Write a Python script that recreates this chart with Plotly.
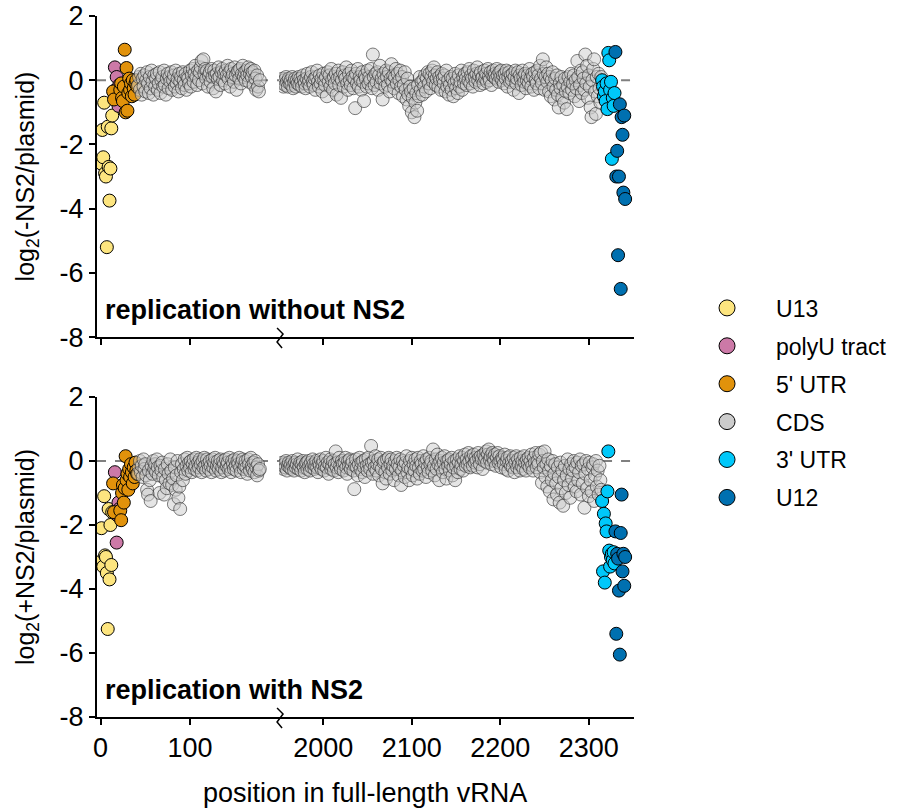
import plotly.graph_objects as go

# ---------------- data ----------------
cat_names = ["U13", "polyU tract", "5' UTR", "CDS", "3' UTR", "U12"]
cat_colors = ["#FDE57F", "#CC79A7", "#E1920B", "#CCCCCC", "#00C8FA", "#0070B0"]

u13_pos = list(range(1, 14))
polyu_pos = list(range(16, 22))
utr5_pos = [14, 15] + list(range(22, 42))
cds_left_start = 42
cds_right_start = 1953
utr3_pos = list(range(2315, 2330))
u12_pos = list(range(2330, 2342))

# replication without NS2 (log2(-NS2/plasmid))
minus_u13 = [-2.6, -1.55, -2.4, -0.7, -2.9, -3.0, -5.2, -1.45, -2.7, -3.75, -2.75, -1.5, -1.1]
minus_polyu = [0.4, -0.3, 0.1, -0.45, -0.8, -0.15]
minus_utr5 = [-0.35, -0.6,
              -0.3, -0.1, -0.55, -0.65, -0.2, 0.95, -1.0, 0.38, -0.95, -0.4,
              0.05, -0.3, -0.1, -0.5, 0.0, -0.25, -0.45, -0.1, 0.0, -0.2]
minus_cds_left = [
    -0.15, 0.1, -0.3, 0.2, -0.45, 0.05, -0.2, 0.15, -0.35, 0.0,
    0.25, -0.1, -0.4, 0.1, -0.25, 0.3, -0.05, -0.45, 0.15, -0.2,
    0.05, 0.2, -0.3, -0.1, 0.25, -0.4, 0.0, 0.1, -0.2, 0.3,
    -0.15, -0.45, 0.05, 0.2, -0.25, 0.1, -0.05, 0.25, -0.3, 0.0,
    0.15, -0.2, 0.3, -0.1, 0.05, -0.35, 0.2, -0.05, 0.1, -0.25,
    0.25, 0.0, -0.15, 0.2, -0.3, 0.1, 0.05, -0.1, 0.3, -0.2,
    0.15, 0.35, -0.05, 0.2, 0.45, 0.1, -0.15, 0.3, 0.0, 0.25,
    0.4, 0.6, -0.1, 0.65, 0.2, 0.35, 0.05, 0.3, -0.2, 0.15,
    0.25, -0.05, 0.35, 0.1, -0.25, 0.3, 0.15, -0.35, 0.2, 0.05,
    0.4, 0.1, -0.15, 0.25, 0.35, 0.0, 0.2, -0.1, 0.3, 0.15,
    0.45, 0.05, 0.25, -0.2, 0.35, 0.1, 0.2, -0.05, 0.4, 0.15,
    -0.3, 0.25, 0.3, 0.05, 0.35, -0.1, 0.2, 0.45, 0.1, 0.25,
    0.0, 0.3, 0.15, 0.4, -0.05, 0.2, 0.35, 0.1, 0.25, -0.15,
    0.3, 0.05, -0.3, 0.15, -0.2, -0.35, 0.0]
minus_cds_right = [
    -0.1, 0.05, -0.2, 0.0, -0.15, 0.1, -0.05, -0.2, 0.05, -0.1,
    0.0, -0.15, 0.1, -0.25, -0.05, 0.05, -0.2, 0.0, -0.1, 0.1,
    -0.15, 0.05, -0.05, -0.2, 0.15, 0.0, -0.1, -0.25, 0.05, 0.2,
    -0.1, 0.0, -0.2, 0.1, 0.25, -0.05, -0.15, 0.05, -0.3, 0.1,
    0.3, -0.05, -0.2, 0.15, -0.1, 0.05, -0.35, 0.2, 0.0, -0.15,
    0.1, -0.5, 0.25, -0.05, 0.15, -0.2, 0.35, 0.0, -0.3, 0.1,
    -0.1, 0.2, -0.45, 0.05, 0.3, -0.15, 0.1, -0.55, 0.0, 0.25,
    -0.2, 0.15, 0.05, 0.4, -0.1, -0.3, 0.2, 0.0, -0.15, 0.3,
    0.1, -0.25, 0.05, -0.87, 0.2, -0.1, 0.35, -0.2, 0.1, 0.0,
    -0.3, 0.25, -0.05, -0.65, 0.15, 0.05, -0.2, 0.3, -0.1, 0.1,
    0.0, 0.35, -0.25, 0.8, 0.1, -0.15, 0.2, -0.05, 0.25, -0.3,
    0.15, 0.45, -0.1, 0.05, -0.6, 0.2, 0.0, -0.2, 0.3, 0.1,
    -0.15, 0.25, -0.35, 0.05, 0.5, -0.05, 0.15, -0.25, 0.1, 0.35,
    -0.1, 0.2, -0.4, 0.0, 0.3, -0.2, 0.1, -0.5, -0.15, 0.25,
    -0.3, -0.6, 0.05, -0.45, -0.8, -0.2, -0.35, -1.0, -0.55, -0.25,
    -1.15, -0.7, -0.4, -0.95, -0.15, -0.5, 0.1, -0.3, -0.05, -0.45,
    0.0, -0.2, 0.15, -0.35, 0.05, 0.25, -0.1, 0.2, -0.25, 0.1,
    0.3, -0.05, 0.4, 0.15, -0.15, 0.05, 0.25, -0.2, 0.1, 0.0,
    -0.3, 0.2, 0.05, -0.1, 0.15, -0.35, 0.3, -0.2, 0.0, -0.45,
    -0.15, 0.1, -0.3, 0.05, -0.5, -0.1, 0.2, -0.25, 0.0, -0.4,
    0.15, -0.2, -0.05, 0.3, -0.3, 0.1, -0.1, 0.2, 0.05, -0.15,
    0.25, 0.0, 0.35, -0.1, 0.15, 0.05, -0.2, 0.3, 0.1, -0.05,
    0.2, 0.4, 0.0, 0.15, -0.15, 0.25, 0.05, 0.1, -0.1, 0.3,
    0.05, 0.2, -0.05, 0.35, 0.1, 0.0, 0.25, -0.15, 0.15, 0.3,
    0.1, 0.2, 0.05, 0.35, 0.15, -0.05, 0.25, 0.1, 0.3, 0.0,
    0.15, -0.1, 0.2, 0.05, 0.3, -0.2, 0.1, 0.25, -0.05, 0.15,
    0.0, 0.2, -0.3, 0.1, 0.3, -0.1, 0.05, 0.25, -0.4, 0.15,
    0.05, -0.15, 0.3, 0.1, -0.05, 0.2, -0.25, 0.0, 0.15, -0.1,
    0.35, 0.05, -0.2, 0.2, 0.1, -0.3, 0.25, 0.0, -0.1, 0.3,
    0.15, -0.25, 0.45, 0.05, -0.1, 0.65, 0.2, -0.3, 0.1, 0.4,
    -0.05, 0.2, -0.35, 0.1, -0.5, 0.0, 0.25, -0.2, -0.6, 0.05,
    -0.3, 0.15, -0.45, -0.85, -0.1, -0.25, 0.1, -0.55, -0.15, -0.7,
    0.05, -0.35, -0.9, -0.2, 0.1, -0.4, -0.05, 0.2, -0.3, -0.1,
    0.15, -0.5, 0.0, -0.25, 0.6, 0.1, -0.65, -0.15, 0.3, -0.4,
    0.25, 0.05, -0.3, 0.8, -0.1, 0.45, -0.55, 0.15, -0.2, -0.85,
    -1.15, 0.0, 0.35, 0.65, -0.35, -1.05, 0.1, -0.5, 0.2, -0.25,
    -0.7, 0.1]
minus_utr3 = [0.0, -0.2, -0.5, -0.35, -0.65, -0.1, -0.9, 0.85, 0.62, -0.3, -0.05, -2.45, -0.55, -0.8, -0.4]
minus_u12 = [0.88, -3.0, -2.2, -5.45, -3.0, -0.75, -6.5, -1.15, -1.7, -3.5, -1.1, -3.7]

# replication with NS2 (log2(+NS2/plasmid))
plus_u13 = [-2.1, -3.1, -3.3, -1.1, -2.95, -3.0, -3.5, -5.25, -1.5, -3.7, -2.0, -3.25, -1.6]
plus_polyu = [-0.35, -1.6, -2.55, -1.7, -1.3, -1.5]
plus_utr5 = [-0.7, -1.6,
             -1.55, -1.85, -1.0, -0.75, -1.3, -0.85, 0.15, -0.6, -0.4, -0.9,
             -0.25, -0.5, -0.1, -0.35, -0.7, -0.2, -0.5, -0.05, -0.3, -0.4]
plus_cds_left = [
    -0.4, -0.2, 0.0, -0.35, -0.15, -0.5, 0.05, -0.25, -0.1, -0.45,
    -0.9, -1.05, -0.3, -0.6, -1.25, -0.15, -0.4, 0.0, -0.25, -0.1,
    -0.35, 0.05, -0.2, -0.45, -1.0, -0.15, -0.3, -0.05, -0.5, -1.05,
    -0.25, -0.6, -0.85, -0.1, -0.4, -0.7, 0.05, -0.3, -0.75, -0.55,
    -1.35, -0.2, -0.9, -0.45, 0.0, -1.15, -0.8, -1.5, -0.35, -0.1,
    -0.6, -0.25, 0.05, -0.4, -0.15, 0.1, -0.3, -0.05, -0.2, 0.0,
    -0.35, -0.1, 0.05, -0.25, -0.15, 0.1, -0.3, -0.05, -0.2, 0.05,
    -0.1, -0.35, 0.0, -0.2, 0.1, -0.15, -0.3, 0.05, -0.1, -0.25,
    0.0, -0.15, -0.35, 0.05, -0.2, -0.05, 0.1, -0.3, -0.15, 0.0,
    -0.25, -0.1, 0.05, -0.35, -0.2, 0.0, -0.1, -0.3, 0.05, -0.15,
    -0.05, -0.25, 0.1, -0.2, -0.35, 0.0, -0.1, -0.25, 0.05, -0.15,
    -0.3, 0.0, -0.1, 0.1, -0.2, -0.35, -0.05, 0.05, -0.25, -0.15,
    0.0, -0.2, -0.4, 0.05, -0.1, -0.3, 0.1, -0.15, -0.25, -0.05,
    -0.35, 0.0, -0.2, -0.45, -0.1, -0.3, -0.25]
plus_cds_right = [
    -0.15, -0.05, -0.25, -0.1, -0.2, 0.0, -0.3, -0.15, -0.05, -0.2,
    -0.1, -0.25, 0.0, -0.15, -0.3, -0.05, -0.2, -0.1, 0.05, -0.25,
    -0.15, -0.05, -0.3, -0.1, 0.0, -0.2, -0.35, -0.1, -0.05, -0.25,
    0.0, -0.15, -0.3, -0.05, -0.2, 0.05, -0.1, -0.25, -0.15, 0.0,
    -0.2, -0.35, -0.05, -0.15, 0.05, -0.25, -0.1, 0.0, -0.3, -0.15,
    0.1, -0.2, -0.05, -0.4, -0.1, 0.05, -0.25, -0.15, 0.0, -0.3,
    -0.1, 0.3, -0.2, -0.05, -0.35, 0.1, -0.15, -0.25, 0.0, -0.1,
    -0.3, -0.05, 0.1, -0.2, -0.4, 0.0, -0.15, 0.05, -0.25, -0.1,
    0.0, -0.3, -0.88, -0.15, 0.05, -0.2, -0.45, -0.1, 0.1, -0.25,
    -0.05, -0.35, 0.0, -0.2, -0.5, 0.05, -0.15, -0.3, 0.1, -0.1,
    -0.25, 0.47, -0.05, -0.4, 0.0, -0.2, 0.15, -0.3, -0.1, 0.05,
    -0.45, -0.15, 0.1, -0.25, -0.7, -0.05, 0.0, -0.35, -0.55, 0.05,
    -0.2, 0.1, -0.4, -0.1, 0.05, -0.3, -0.15, -0.6, 0.0, -0.25,
    0.1, -0.1, -0.45, -0.2, 0.05, -0.75, -0.3, 0.0, -0.15, -0.5,
    -0.05, 0.15, -0.35, -0.2, -0.6, 0.0, -0.25, 0.1, -0.45, -0.1,
    -0.3, 0.05, -0.15, -0.55, 0.1, -0.2, -0.4, 0.0, -0.1, -0.3,
    0.15, -0.25, -0.05, -0.5, 0.05, -0.2, -0.35, 0.1, -0.1, 0.0,
    -0.3, 0.36, -0.15, -0.45, 0.05, -0.25, 0.2, -0.1, -0.6, 0.0,
    -0.2, 0.1, -0.35, -0.05, 0.15, -0.25, -0.55, 0.0, -0.15, 0.05,
    -0.3, -0.1, 0.1, -0.45, -0.2, 0.0, -0.6, -0.15, 0.05, -0.35,
    -0.05, 0.15, -0.25, -0.1, 0.1, -0.3, 0.0, 0.2, -0.15, 0.05,
    -0.1, 0.25, 0.0, -0.2, 0.15, 0.05, -0.15, 0.2, -0.05, 0.1,
    0.0, -0.2, 0.25, 0.1, -0.1, 0.15, 0.05, -0.25, 0.2, 0.0,
    0.1, 0.3, -0.05, 0.2, 0.36, 0.05, 0.15, -0.1, 0.25, 0.1,
    0.0, 0.2, -0.15, 0.1, 0.25, -0.05, 0.15, 0.0, -0.2, 0.1,
    0.05, -0.1, 0.2, -0.25, 0.0, 0.1, -0.3, -0.05, 0.15, -0.15,
    0.0, -0.2, 0.1, -0.35, -0.05, 0.15, -0.2, 0.05, -0.1, -0.3,
    0.1, -0.15, 0.0, -0.25, 0.15, -0.05, -0.3, 0.05, -0.1, 0.1,
    -0.2, 0.0, 0.2, -0.15, -0.3, 0.1, -0.05, 0.25, -0.2, 0.0,
    -0.1, 0.2, -0.35, 0.26, -0.68, 0.0, -0.2, 0.3, -0.5, -0.1,
    -0.8, 0.05, -0.3, -0.95, -0.15, -0.6, 0.0, -1.2, -0.4, -0.1,
    -0.7, -1.05, -0.2, -0.5, -1.3, -0.05, -0.85, -0.3, -1.4, -0.6,
    -0.15, -1.0, -0.45, 0.05, -0.75, -0.25, -1.15, -0.1, -0.55, -0.3,
    0.0, -0.8, -0.2, -0.95, -0.05, -0.6, -0.35, 0.05, -1.05, -0.15,
    -0.7, -0.1, -1.46, -0.4, 0.0, -0.85, -0.25, -1.1, -0.05, -0.6,
    -0.95, -0.2, -0.1, -1.25, -0.45, 0.0, -0.8, -0.3, -1.05, -0.15,
    -0.6, -0.9]
plus_utr3 = [-1.25, -3.45, -1.65, -3.8, -1.95, -2.2, -0.95, 0.3, -2.8, -3.3, -3.0, -2.9, -3.1, -2.85, -3.2]
plus_u12 = [-2.2, -5.4, -2.9, -3.05, -4.05, -6.05, -2.25, -1.05, -3.45, -2.9, -3.9, -3.0]

y_tick_vals = [-8, -6, -4, -2, 0, 2]
y_tick_text = ["-8", "-6", "-4", "-2", "0", "2"]
x_left_ticks = [0, 100]
x_right_ticks = [2000, 2100, 2200, 2300]
x_left_range = [-4, 199.5]
x_right_range = [1950, 2351]
y_range = [-8, 2]

panel_labels = ["replication without NS2", "replication with NS2"]
y_titles = ["log<sub>2</sub>(-NS2/plasmid)", "log<sub>2</sub>(+NS2/plasmid)"]
x_title = "position in full-length vRNA"

# ---------------- figure ----------------
FONT = "Liberation Sans, Arial, Helvetica, sans-serif"
fig = go.Figure()

gray_fill = "rgba(204,204,204,0.5)"
gray_line = "rgba(40,40,40,0.6)"
MS = 13

def colored(xs, ys, color, xa, ya):
    fig.add_trace(go.Scatter(x=xs, y=ys, mode="markers", xaxis=xa, yaxis=ya,
                             showlegend=False, hoverinfo="x+y",
                             marker=dict(size=MS, color=color, line=dict(color="black", width=1))))

def gray(start, ys, xa, ya):
    xs = list(range(start, start + len(ys)))
    fig.add_trace(go.Scatter(x=xs, y=ys, mode="markers", xaxis=xa, yaxis=ya,
                             showlegend=False, hoverinfo="x+y",
                             marker=dict(size=MS, color=gray_fill, line=dict(color=gray_line, width=1))))

panels = [
    ("x3", "x4", "y3", minus_u13, minus_polyu, minus_utr5, minus_cds_left, minus_cds_right, minus_utr3, minus_u12),
    ("x", "x2", "y", plus_u13, plus_polyu, plus_utr5, plus_cds_left, plus_cds_right, plus_utr3, plus_u12),
]
for xl, xr, ya, u13, pu, u5, cl, cr, u3, u12 in panels:
    colored(u13_pos, u13, cat_colors[0], xl, ya)
    colored(polyu_pos, pu, cat_colors[1], xl, ya)
    colored(utr5_pos, u5, cat_colors[2], xl, ya)
    gray(cds_left_start, cl, xl, ya)
    gray(cds_right_start, cr, xr, ya)
    colored(utr3_pos, u3, cat_colors[4], xr, ya)
    colored(u12_pos, u12, cat_colors[5], xr, ya)

# legend entries
for i, (name, col) in enumerate(zip(cat_names, cat_colors)):
    fig.add_trace(go.Scatter(x=[None], y=[None], mode="markers", name=name,
                             legendgroup=f"g{i}", xaxis="x", yaxis="y",
                             marker=dict(size=22, color=col, line=dict(color="black", width=1))))

split = 0.339
top_dom = [0.542, 1.0]
bot_dom = [0.0, 0.4565]

axis_common = dict(showline=True, linecolor="black", linewidth=2, ticks="outside",
                   ticklen=6, tickwidth=2, tickcolor="black", showgrid=False, zeroline=False,
                   automargin=False,
                   tickfont=dict(family=FONT, size=27, color="black"))

fig.update_layout(
    width=912, height=809,
    margin=dict(l=97, r=278, t=16, b=92, autoexpand=False),
    paper_bgcolor="white", plot_bgcolor="white",
    font=dict(family=FONT, size=24, color="black"),
    showlegend=True,
    legend=dict(x=1.082, xanchor="left", y=0.448, yanchor="middle",
                font=dict(family=FONT, size=23, color="black"),
                tracegroupgap=5, itemsizing="trace", itemwidth=88, bgcolor="rgba(0,0,0,0)"),
    xaxis=dict(domain=[0, split], range=x_left_range, anchor="y", tickvals=x_left_ticks, **axis_common),
    xaxis2=dict(domain=[split, 1], range=x_right_range, anchor="y", tickvals=x_right_ticks, **axis_common),
    xaxis3=dict(domain=[0, split], range=x_left_range, anchor="y3", tickvals=x_left_ticks,
                showticklabels=False, **axis_common),
    xaxis4=dict(domain=[split, 1], range=x_right_range, anchor="y3", tickvals=x_right_ticks,
                showticklabels=False, **axis_common),
    yaxis=dict(domain=bot_dom, range=y_range, anchor="x", tickvals=y_tick_vals, ticktext=y_tick_text,
               title=dict(text=y_titles[1], standoff=18, font=dict(family=FONT, size=25)), **axis_common),
    yaxis3=dict(domain=top_dom, range=y_range, anchor="x3", tickvals=y_tick_vals, ticktext=y_tick_text,
                title=dict(text=y_titles[0], standoff=18, font=dict(family=FONT, size=25)), **axis_common),
)

# dashed zero lines
for xa, ya in [("x", "y"), ("x2", "y"), ("x3", "y3"), ("x4", "y3")]:
    fig.add_shape(type="line", xref=f"{xa} domain", yref=ya, x0=0, x1=1, y0=0, y1=0,
                  line=dict(color="#808080", width=2, dash="dash"), layer="below")

# axis-break marks (paper referenced so they are not clipped)
for dom in [bot_dom, top_dom]:
    fig.add_shape(type="path", xref="paper", yref="paper", xsizemode="pixel", ysizemode="pixel",
                  xanchor=split, yanchor=dom[0],
                  path="M -2,9 L 4,3 L -2,-5 L 3,-11", line=dict(color="black", width=1.5))

# panel labels
for label, ya in zip(panel_labels, ["y3", "y"]):
    fig.add_annotation(text=f"<b>{label}</b>", xref="paper", yref=f"{ya} domain",
                       x=0.011, y=0.03, xanchor="left", yanchor="bottom", showarrow=False,
                       font=dict(family=FONT, size=27, color="black"))

fig.add_annotation(text=x_title, xref="paper", yref="paper", x=0.499, y=-0.108,
                   xanchor="center", yanchor="middle", showarrow=False,
                   font=dict(family=FONT, size=27, color="black"))

fig.write_html("out.html")
